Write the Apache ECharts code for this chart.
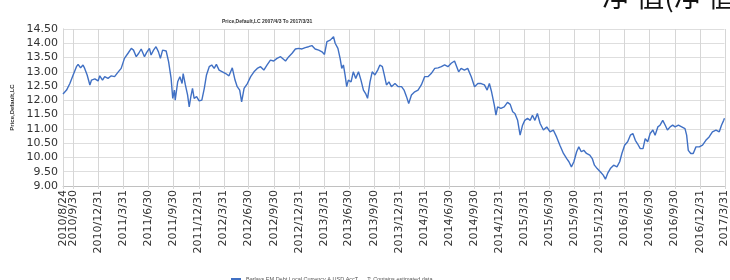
<!DOCTYPE html>
<html>
<head>
<meta charset="utf-8">
<script src="https://cdn.jsdelivr.net/npm/echarts@6/dist/echarts.min.js"></script>
<style>
  html, body { margin: 0; padding: 0; background: #fff; }
  #chart { width: 730px; height: 280px; }
</style>
</head>
<body>
<div id="chart"></div>
<script>
// quarter labels on the x axis
var tickLabels = ['2010/8/24', '2010/9/30', '2010/12/31', '2011/3/31', '2011/6/30', '2011/9/30', '2011/12/31',
    '2012/3/31', '2012/6/30', '2012/9/30', '2012/12/31', '2013/3/31', '2013/6/30', '2013/9/30', '2013/12/31',
    '2014/3/31', '2014/6/30', '2014/9/30', '2014/12/31', '2015/3/31', '2015/6/30', '2015/9/30', '2015/12/31',
    '2016/3/31', '2016/6/30', '2016/9/30', '2016/12/31', '2017/3/31'];

var yTicks = [9, 9.5, 10, 10.5, 11, 11.5, 12, 12.5, 13, 13.5, 14, 14.5];

var dates = ['2010/8/24', '2010/9/6', '2010/9/18', '2010/9/30', '2010/10/12', '2010/10/18', '2010/10/27', '2010/11/5',
    '2010/11/11', '2010/11/20', '2010/11/30', '2010/12/6', '2010/12/18', '2010/12/30', '2011/1/5', '2011/1/15',
    '2011/1/23', '2011/2/4', '2011/2/16', '2011/2/28', '2011/3/12', '2011/3/24', '2011/4/5', '2011/4/18',
    '2011/4/30', '2011/5/8', '2011/5/18', '2011/5/27', '2011/6/5', '2011/6/17', '2011/6/25', '2011/7/5',
    '2011/7/11', '2011/7/20', '2011/7/29', '2011/8/7', '2011/8/14', '2011/8/22', '2011/9/4', '2011/9/13',
    '2011/9/22', '2011/9/28', '2011/10/4', '2011/10/7', '2011/10/16', '2011/10/24', '2011/11/1', '2011/11/5',
    '2011/11/13', '2011/11/21', '2011/11/27', '2011/12/3', '2011/12/9', '2011/12/15', '2011/12/24', '2012/1/2',
    '2012/1/12', '2012/1/21', '2012/1/29', '2012/2/8', '2012/2/17', '2012/2/26', '2012/3/5', '2012/3/15',
    '2012/3/27', '2012/4/8', '2012/4/20', '2012/5/2', '2012/5/12', '2012/5/20', '2012/5/29', '2012/6/5',
    '2012/6/14', '2012/6/26', '2012/7/8', '2012/7/20', '2012/8/1', '2012/8/13', '2012/8/25', '2012/9/6',
    '2012/9/18', '2012/9/30', '2012/10/12', '2012/10/25', '2012/10/31', '2012/11/12', '2012/11/24', '2012/12/6',
    '2012/12/18', '2012/12/30', '2013/1/11', '2013/1/23', '2013/2/4', '2013/2/16', '2013/2/28', '2013/3/13',
    '2013/3/25', '2013/4/3', '2013/4/12', '2013/4/24', '2013/5/6', '2013/5/12', '2013/5/22', '2013/5/30',
    '2013/6/5', '2013/6/11', '2013/6/17', '2013/6/23', '2013/6/29', '2013/7/9', '2013/7/17', '2013/7/26',
    '2013/8/5', '2013/8/14', '2013/8/23', '2013/8/31', '2013/9/7', '2013/9/16', '2013/9/24', '2013/10/4',
    '2013/10/14', '2013/10/22', '2013/10/31', '2013/11/7', '2013/11/15', '2013/11/24', '2013/12/3', '2013/12/16',
    '2013/12/28', '2014/1/9', '2014/1/18', '2014/1/27', '2014/2/4', '2014/2/14', '2014/2/26', '2014/3/10',
    '2014/3/22', '2014/4/3', '2014/4/15', '2014/4/27', '2014/5/10', '2014/5/22', '2014/6/3', '2014/6/15',
    '2014/6/27', '2014/7/9', '2014/7/21', '2014/7/27', '2014/8/5', '2014/8/14', '2014/8/26', '2014/9/7',
    '2014/9/20', '2014/10/2', '2014/10/14', '2014/10/26', '2014/11/7', '2014/11/17', '2014/11/25', '2014/12/3',
    '2014/12/13', '2014/12/19', '2014/12/25', '2015/1/6', '2015/1/18', '2015/1/30', '2015/2/9', '2015/2/18',
    '2015/2/26', '2015/3/8', '2015/3/17', '2015/3/26', '2015/4/3', '2015/4/13', '2015/4/23', '2015/5/1',
    '2015/5/10', '2015/5/19', '2015/5/29', '2015/6/10', '2015/6/22', '2015/7/4', '2015/7/16', '2015/7/28',
    '2015/8/9', '2015/8/22', '2015/9/3', '2015/9/11', '2015/9/20', '2015/9/29', '2015/10/9', '2015/10/17',
    '2015/10/26', '2015/11/4', '2015/11/14', '2015/11/26', '2015/12/5', '2015/12/13', '2015/12/23', '2016/1/4',
    '2016/1/14', '2016/1/22', '2016/1/30', '2016/2/9', '2016/2/21', '2016/3/4', '2016/3/14', '2016/3/22',
    '2016/4/1', '2016/4/12', '2016/4/22', '2016/5/1', '2016/5/10', '2016/5/18', '2016/5/28', '2016/6/7',
    '2016/6/15', '2016/6/24', '2016/7/3', '2016/7/13', '2016/7/21', '2016/7/31', '2016/8/8', '2016/8/18',
    '2016/8/27', '2016/9/4', '2016/9/14', '2016/9/23', '2016/10/2', '2016/10/14', '2016/10/26', '2016/11/7',
    '2016/11/13', '2016/11/19', '2016/11/28', '2016/12/7', '2016/12/17', '2016/12/29', '2017/1/10', '2017/1/22',
    '2017/2/3', '2017/2/15', '2017/2/28', '2017/3/12', '2017/3/20', '2017/3/28', '2017/3/31'];

var values = [12.22, 12.36, 12.59, 12.89, 13.18, 13.26, 13.14, 13.24,
    13.12, 12.89, 12.54, 12.71, 12.75, 12.68, 12.86, 12.71,
    12.83, 12.77, 12.86, 12.83, 12.98, 13.12, 13.47, 13.65,
    13.82, 13.76, 13.53, 13.65, 13.80, 13.53, 13.68, 13.82,
    13.59, 13.76, 13.88, 13.70, 13.47, 13.76, 13.73, 13.35,
    12.77, 12.07, 12.36, 12.01, 12.65, 12.83, 12.59, 12.94,
    12.54, 12.19, 11.77, 12.13, 12.42, 12.07, 12.13, 11.98,
    12.01, 12.42, 12.89, 13.18, 13.24, 13.12, 13.26, 13.06,
    13.00, 12.94, 12.86, 13.14, 12.71, 12.48, 12.36, 11.95,
    12.42, 12.59, 12.83, 13.00, 13.12, 13.18, 13.06, 13.24,
    13.41, 13.38, 13.47, 13.53, 13.47, 13.38, 13.53, 13.65,
    13.80, 13.82, 13.80, 13.85, 13.88, 13.92, 13.80, 13.76,
    13.70, 13.61, 14.06, 14.11, 14.23, 14.00, 13.82, 13.47,
    13.12, 13.24, 12.89, 12.48, 12.71, 12.65, 13.00, 12.77,
    13.00, 12.71, 12.36, 12.24, 12.07, 12.65, 13.00, 12.89,
    13.06, 13.24, 13.18, 12.89, 12.54, 12.65, 12.48, 12.59,
    12.48, 12.48, 12.36, 12.13, 11.89, 12.19, 12.30, 12.36,
    12.54, 12.83, 12.83, 12.94, 13.12, 13.14, 13.18, 13.24,
    13.18, 13.30, 13.38, 13.35, 13.00, 13.12, 13.06, 13.12,
    12.83, 12.48, 12.59, 12.59, 12.54, 12.36, 12.59, 12.30,
    11.83, 11.48, 11.77, 11.72, 11.77, 11.93, 11.86, 11.60,
    11.54, 11.30, 10.78, 11.13, 11.30, 11.37, 11.30, 11.48,
    11.30, 11.54, 11.19, 10.96, 11.07, 10.90, 10.96, 10.72,
    10.43, 10.14, 9.96, 9.85, 9.67, 9.85, 10.20, 10.37,
    10.20, 10.25, 10.14, 10.08, 9.96, 9.73, 9.61, 9.49,
    9.38, 9.24, 9.44, 9.61, 9.73, 9.67, 9.85, 10.14,
    10.43, 10.55, 10.78, 10.84, 10.60, 10.48, 10.31, 10.31,
    10.66, 10.55, 10.84, 10.96, 10.78, 11.07, 11.13, 11.30,
    11.13, 10.96, 11.07, 11.13, 11.07, 11.13, 11.07, 11.01,
    10.78, 10.25, 10.14, 10.14, 10.37, 10.37, 10.43, 10.60,
    10.72, 10.90, 10.96, 10.90, 11.13, 11.30, 11.37];

// every calendar day on the axis, so quarter labels land at their true spot
var categories = [];
(function () {
    var d = new Date(2010, 7, 24);
    var end = new Date(2017, 2, 31);
    while (d <= end) {
        categories.push(d.getFullYear() + '/' + (d.getMonth() + 1) + '/' + d.getDate());
        d.setDate(d.getDate() + 1);
    }
})();

var tickSet = {};
tickLabels.forEach(function (t) { tickSet[t] = true; });
var firstLabel = tickLabels[0];
// main axis shows all quarter labels except the start date,
// which sits on a second overlaid axis so the overlap check keeps both
var onQuarter = function (idx, val) {
    var name = categories[idx] || val;
    return !!tickSet[name] && name !== firstLabel;
};
var onStart = function (idx, val) {
    return (categories[idx] || val) === firstLabel;
};

var labelStyle = {
    rotate: 90,
    margin: 4,
    fontSize: 11,
    color: '#333',
    hideOverlap: false
};

var yMin = yTicks[0];
var yMax = yTicks[yTicks.length - 1];

var headText = {
    type: 'text',
    left: 602,
    top: -18,
    style: {
        text: '净 值(净 值',
        fontSize: 28,
        fontFamily: 'Noto Sans CJK SC',
        fill: '#111'
    }
};

var myChart = echarts.init(document.getElementById('chart'));

var option = {
    animation: false,
    backgroundColor: '#fff',
    textStyle: { fontFamily: 'DejaVu Sans' },
    title: {
        text: 'Price,Default,LC 2007/4/3 To 2017/3/31',
        left: 217,
        top: 14,
        textStyle: { fontSize: 5, fontWeight: 'bold', color: '#333', fontFamily: 'Liberation Sans' }
    },
    legend: {
        left: 226,
        top: 271,
        itemWidth: 10,
        itemHeight: 2,
        itemGap: 4,
        icon: 'rect',
        data: ['Barlays EM Debt Local Currency A USD AccT'],
        formatter: function (name) { return name + '      T: Contains estimated data'; },
        textStyle: { fontSize: 5.5, color: '#555', fontFamily: 'Liberation Sans' }
    },
    grid: { left: 63, right: 2, top: 29, bottom: 94 },
    xAxis: [{
        type: 'category',
        data: categories,
        boundaryGap: false,
        axisLine: { lineStyle: { color: '#c0c0c0' } },
        axisTick: { show: false },
        splitLine: { show: false },
        axisLabel: Object.assign({ interval: onQuarter }, labelStyle)
    }, {
        type: 'category',
        data: categories,
        position: 'bottom',
        boundaryGap: false,
        axisLine: { show: false },
        axisTick: { show: false },
        splitLine: { show: false },
        axisLabel: Object.assign({ interval: onStart, showMinLabel: true }, labelStyle)
    }],
    yAxis: {
        type: 'value',
        min: yMin,
        max: yMax,
        interval: 0.5,
        name: 'Price,Default,LC',
        nameLocation: 'middle',
        nameGap: 39,
        nameRotate: 90,
        nameTextStyle: { fontSize: 6, fontWeight: 'bold', color: '#333', fontFamily: 'Liberation Sans' },
        axisLine: { show: true, lineStyle: { color: '#c0c0c0' } },
        axisTick: { show: false },
        splitLine: { lineStyle: { color: '#dedede' } },
        axisLabel: {
            fontSize: 11,
            margin: 5,
            color: '#333',
            formatter: function (v) { return v.toFixed(2); }
        }
    },
    graphic: [headText],
    series: [{
        name: 'Barlays EM Debt Local Currency A USD AccT',
        type: 'line',
        xAxisIndex: 0,
        z: 3,
        showSymbol: false,
        data: dates.map(function (d, i) { return [d, values[i]]; }),
        lineStyle: { color: '#4070c4', width: 1.4 },
        itemStyle: { color: '#4070c4' }
    }]
};

myChart.setOption(option);

// vertical quarter grid: positions come from the chart's own axes
var yTop = myChart.convertToPixel({ yAxisIndex: 0 }, yMax);
var yBottom = myChart.convertToPixel({ yAxisIndex: 0 }, yMin);
var gridLines = [];
tickLabels.forEach(function (t) {
    var px = myChart.convertToPixel({ xAxisIndex: 0 }, categories.indexOf(t));
    if (isNaN(px)) return;
    var x = Math.round(px) + 0.5;
    gridLines.push({
        type: 'line',
        z: 1,
        silent: true,
        shape: { x1: x, y1: yTop, x2: x, y2: yBottom + 3 },
        style: { stroke: '#d6d6d6', lineWidth: 1 }
    });
});
myChart.setOption({ graphic: [headText].concat(gridLines) }, { replaceMerge: ['graphic'] });
</script>
</body>
</html>
